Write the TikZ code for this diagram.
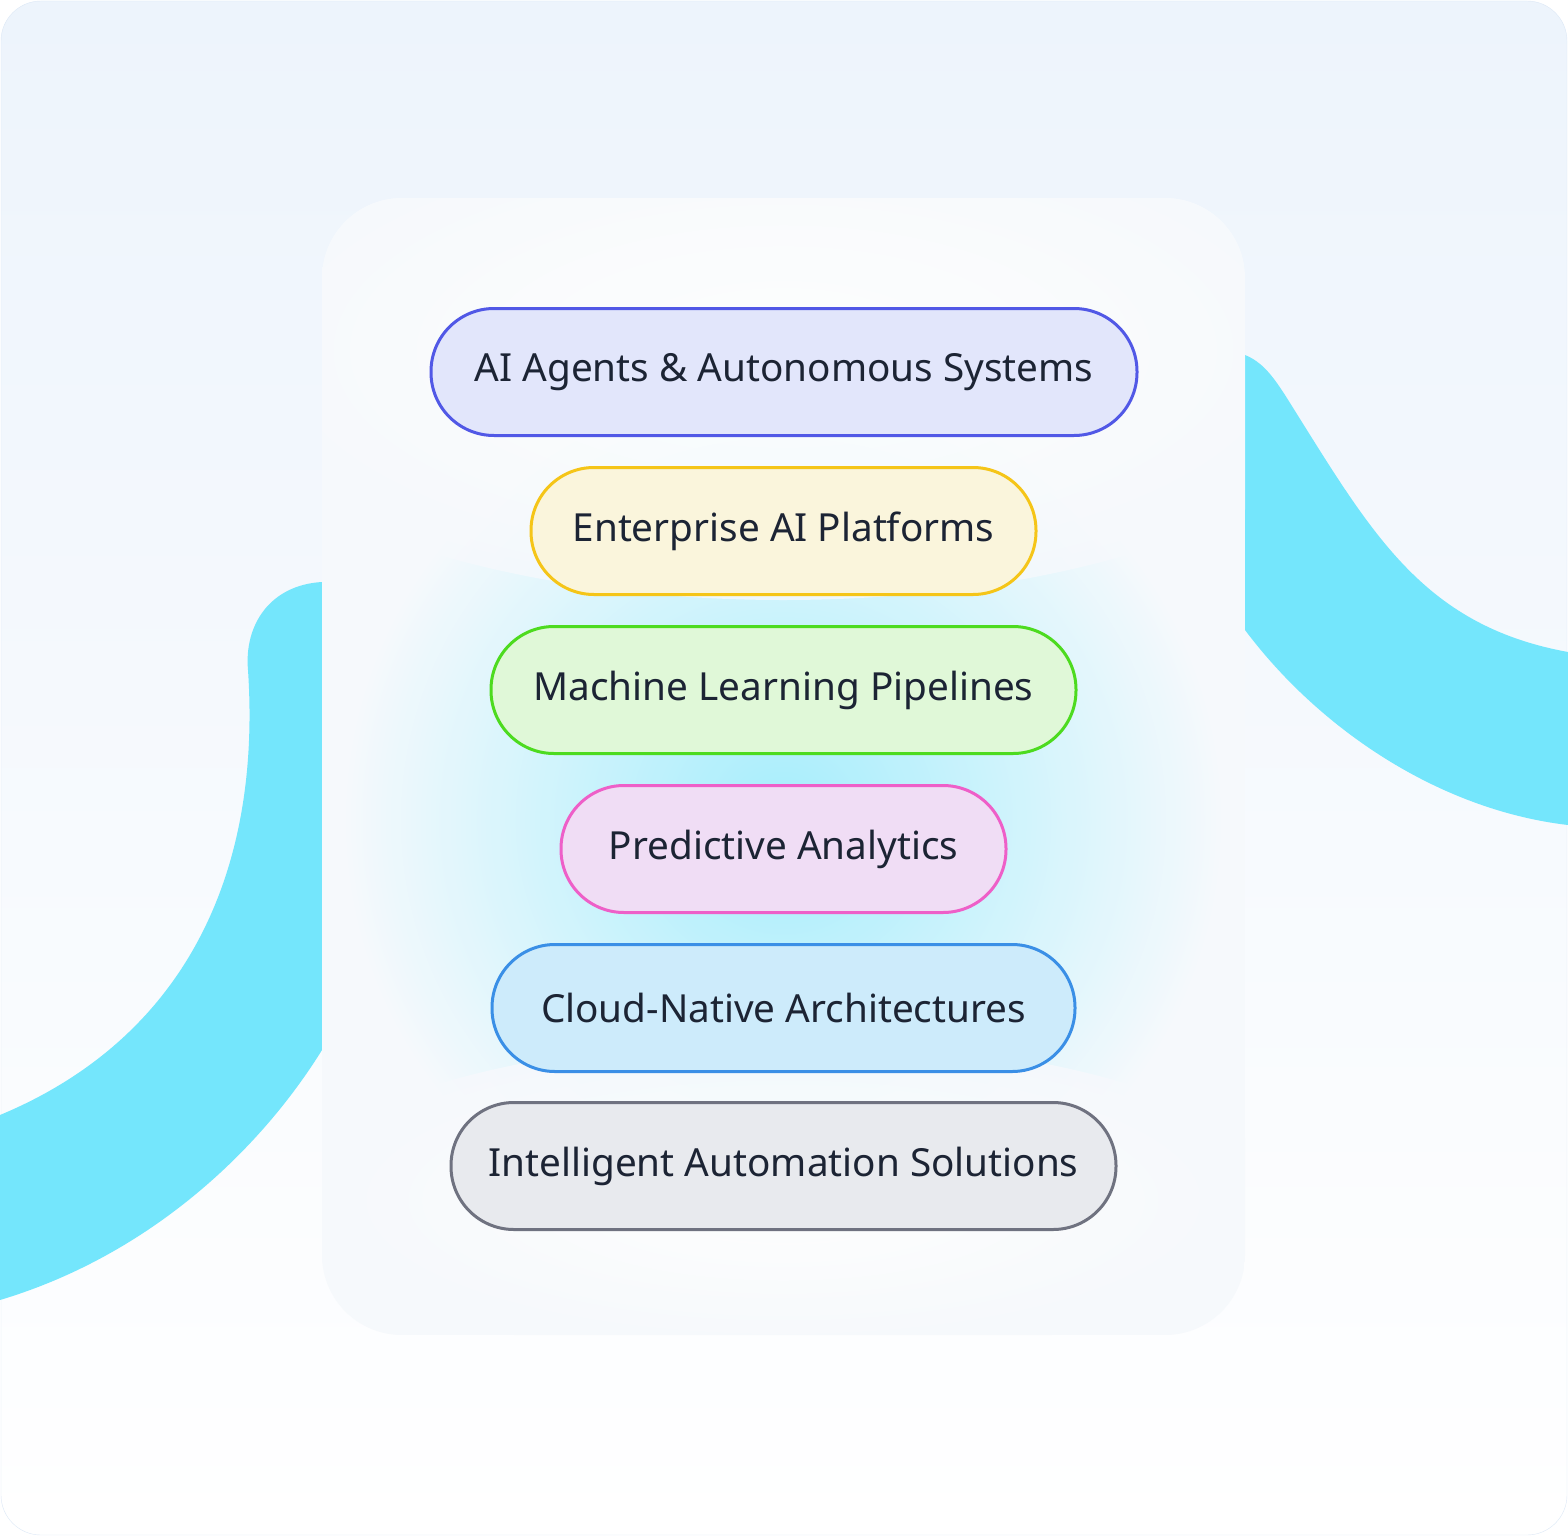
\documentclass[tikz,border=0pt]{standalone}
\usepackage{fontspec}
\setmainfont{Noto Sans}
\begin{document}
\begin{tikzpicture}[x=1pt,y=-1pt,
 pill/.style={draw,line width=3pt,rounded corners=63pt,minimum height=127pt,inner sep=0pt,
   font=\fontsize{38.7}{40}\selectfont,text=txt}]
\definecolor{txt}{HTML}{1C2434}
\definecolor{cy}{HTML}{74E6FC}
\definecolor{bgA}{HTML}{EDF4FC}
\definecolor{bgE}{HTML}{DCE8F6}
\definecolor{cardc}{HTML}{F6F9FC}
\useasboundingbox (0,0) rectangle (1568,1536);
\shade[rounded corners=40pt,top color=bgA,bottom color=white] (1,1) rectangle (1567,1535);
\draw[bgE,rounded corners=40pt] (1,1) rectangle (1567,1535);
% swooshes
\fill[cy] (322,582) .. controls (270,585) and (244,625) .. (248,670)
  .. controls (262,880) and (180,1040) .. (0,1115) -- (0,1300)
  .. controls (150,1255) and (260,1150) .. (322,1050) -- cycle;
\fill[cy] (1245,355) .. controls (1262,362) and (1272,375) .. (1285,395)
  .. controls (1370,530) and (1420,625) .. (1568,652) -- (1568,825)
  .. controls (1440,810) and (1320,730) .. (1245,630) -- cycle;
% card
\begin{scope}
\clip[rounded corners=80pt] (322,198) rectangle (1245,1335);
\fill[cardc] (322,198) rectangle (1245,1335);
\shade[inner color=cy!70,outer color=cardc,opacity=0.9] (783,820) ellipse (440 and 440);
\shade[inner color=white,outer color=cardc,opacity=0.8] (783,350) ellipse (600 and 250);
\shade[inner color=white,outer color=cardc,opacity=0.9] (783,1200) ellipse (500 and 160);
\end{scope}
\definecolor{b1}{HTML}{5158E6}\definecolor{f1}{HTML}{E2E6FB}
\definecolor{b2}{HTML}{F5C518}\definecolor{f2}{HTML}{FAF5DC}
\definecolor{b3}{HTML}{4DDB1F}\definecolor{f3}{HTML}{E0F8D8}
\definecolor{b4}{HTML}{EE5FC8}\definecolor{f4}{HTML}{F0DDF5}
\definecolor{b5}{HTML}{3A8FE6}\definecolor{f5}{HTML}{CDEBFB}
\definecolor{b6}{HTML}{6F7280}\definecolor{f6}{HTML}{E8EAEE}
\node[pill,draw=b1,fill=f1,minimum width=706pt] (p1) at (784,372) {AI Agents \& Autonomous Systems};
\node[pill,draw=b2,fill=f2,minimum width=505pt] (p2) at (783.5,531) {Enterprise AI Platforms};
\node[pill,draw=b3,fill=f3,minimum width=585pt] (p3) at (783.5,690) {Machine Learning Pipelines};
\node[pill,draw=b4,fill=f4,minimum width=445pt] (p4) at (783.5,849) {Predictive Analytics};
\node[pill,draw=b5,fill=f5,minimum width=583pt] (p5) at (783.5,1008) {Cloud-Native Architectures};
\node[pill,draw=b6,fill=f6,minimum width=665pt] (p6) at (783.5,1166) {Intelligent Automation Solutions};
\end{tikzpicture}
\end{document}
